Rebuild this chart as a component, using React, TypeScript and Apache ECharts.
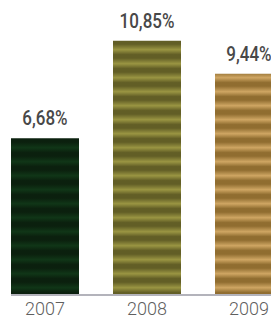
import React, { useEffect, useRef } from "react";
import * as echarts from "echarts";

const categories = ["2007", "2008", "2009"];
const values = [6.68, 10.85, 9.44];
const valueLabels = ["6,68%", "10,85%", "9,44%"];
const barPalettes = [
  ["#0b200e", "#103617"],
  ["#625e26", "#9a9542"],
  ["#906d30", "#cfa663"],
];

function stripePattern(dark: string, light: string) {
  const c = document.createElement("canvas");
  c.width = 4;
  c.height = 14;
  const ctx = c.getContext("2d")!;
  const g = ctx.createLinearGradient(0, 0, 0, 14);
  g.addColorStop(0, dark);
  g.addColorStop(0.15, dark);
  g.addColorStop(0.55, light);
  g.addColorStop(0.9, dark);
  g.addColorStop(1, dark);
  ctx.fillStyle = g;
  ctx.fillRect(0, 0, 4, 14);
  return { image: c, repeat: "repeat", imageWidth: 4, imageHeight: 14 } as any;
}

export default function App() {
  const ref = useRef<HTMLDivElement>(null);
  useEffect(() => {
    if (!ref.current) return;
    const chart = echarts.init(ref.current, undefined, { renderer: "svg" });
    chart.setOption({
      animation: false,
      grid: { left: 0, right: 0, top: 14, bottom: 24 },
      xAxis: {
        type: "category",
        data: categories,
        axisLine: { show: false },
        axisTick: { show: false },
        axisLabel: {
          color: "#5f5f5f",
          fontSize: 18,
          lineHeight: 18,
          fontFamily: "Roboto",
          fontWeight: 300,
          margin: 5,
        },
      },
      yAxis: {
        type: "value",
        min: 0,
        max: 12,
        show: false,
        splitLine: { show: false },
      },
      series: [
        {
          type: "bar",
          barWidth: 68,
          data: values.map((v, i) => ({
            value: v,
            itemStyle: { color: stripePattern(barPalettes[i][0], barPalettes[i][1]) },
          })),
        },
      ],
    });
    const p0 = chart.convertToPixel({ seriesIndex: 0 }, [0, 0]) as number[];
    const texts = values.map((v, i) => {
      const p = chart.convertToPixel({ seriesIndex: 0 }, [i, v]) as number[];
      return {
        type: "text",
        x: p[0],
        y: p[1] - 19.5,
        scaleX: 0.85,
        style: {
          text: valueLabels[i],
          fontSize: 20,
          fontFamily: "Roboto",
          fontWeight: 500,
          fill: "#484848",
          align: "center",
          verticalAlign: "middle",
        },
      };
    });
    chart.setOption({
      graphic: [
        {
          type: "line",
          shape: { x1: p0[0] - 34, y1: p0[1] + 1, x2: 306, y2: p0[1] + 1 },
          style: { stroke: "#b3b3bb", lineWidth: 2 },
        },
        ...texts,
      ],
    });
    return () => chart.dispose();
  }, []);
  return (
    <div
      style={{
        position: "fixed",
        left: 0,
        top: 0,
        width: 271,
        height: 318,
        overflow: "hidden",
        background: "#fff",
      }}
    >
      <div ref={ref} style={{ position: "absolute", left: -6, top: 0, width: 306, height: 318 }} />
    </div>
  );
}
